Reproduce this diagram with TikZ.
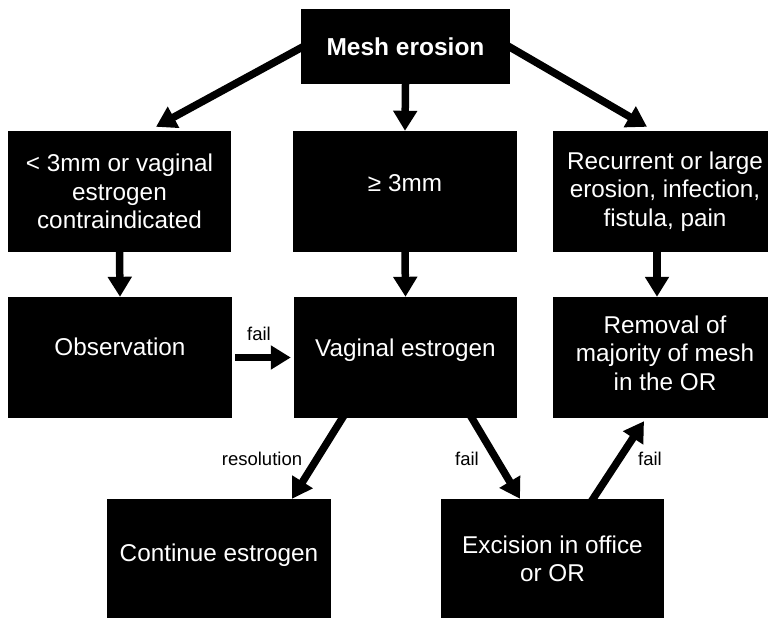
\documentclass[tikz,border=0pt]{standalone}
\usepackage{fontspec}
\setmainfont{Liberation Sans}
\usetikzlibrary{arrows.meta}
\begin{document}
\begin{tikzpicture}[x=1pt,y=-1pt,
  box/.style={fill=black, text=white, inner sep=0pt, align=center,
    font=\fontsize{24.3}{28.5}\selectfont,
    minimum width=224pt, minimum height=121pt},
  arr/.style={line width=7.5pt, -{Triangle[length=20pt,width=23pt]}},
  lbl/.style={font=\fontsize{18.5}{22}\selectfont, inner sep=0pt}]
\clip (0,0) rectangle (768,618);
% boxes
\node[box, minimum width=209pt, minimum height=75pt,
  font=\bfseries\fontsize{24.5}{28}\selectfont] (mesh) at (405.5,46.5) {Mesh erosion};
\node[box, minimum width=223pt] (lt) at (119.5,191.5) {< 3mm or vaginal\\estrogen\\contraindicated};
\node[box, text height=17pt, text depth=17pt] (mt) at (405,191.5) {≥ 3mm};
\node[box] (rt) at (665,191.5) {Recurrent or large\\erosion, infection,\\fistula, pain};
\node[box, text height=17pt, text depth=21pt] (obs) at (120,357.5) {Observation};
\node[box, minimum width=223pt, text height=17pt, text depth=19pt] (ve) at (405.5,357.5) {Vaginal estrogen};
\node[box, text depth=9pt] (rem) at (665,357.5) {Removal of\\majority of mesh\\in the OR};
\node[box, minimum height=120pt, text height=17pt, text depth=12pt] (cont) at (219,559) {Continue estrogen};
\node[box, minimum width=223pt, minimum height=120pt] (exc) at (552.5,559) {Excision in office\\or OR};
% connectors
\draw[arr] ([xshift=10pt,yshift=4pt]mesh.west) -- ([xshift=36.5pt,yshift=4pt]lt.north);
\draw[arr] (mesh.south) -- (mt.north);
\draw[arr] ([xshift=-10pt,yshift=5pt]mesh.east) -- ([xshift=-18pt,yshift=4pt]rt.north);
\draw[arr] (lt.south) -- (obs.north);
\draw[arr] (mt.south) -- (ve.north);
\draw[arr] ([xshift=-8pt]rt.south) -- ([xshift=-8pt]rem.north);
\draw[arr] ([xshift=3pt]obs.east) -- ([xshift=-3pt]ve.west);
\draw[arr] ([xshift=-57pt,yshift=10pt]ve.south) -- ([xshift=73pt]cont.north);
\draw[arr] ([xshift=60.5pt,yshift=10pt]ve.south) -- ([xshift=-32.5pt]exc.north);
\draw[arr] ([xshift=34pt,yshift=-10pt]exc.north) -- ([xshift=-21pt,yshift=-3pt]rem.south);
% labels
\node[lbl] (l1) at (259,333.5) {fail};
\node[lbl] (l2) at (262,459) {resolution};
\node[lbl] (l3) at (467,458.5) {fail};
\node[lbl] (l4) at (650,458.5) {fail};
\end{tikzpicture}
\end{document}
